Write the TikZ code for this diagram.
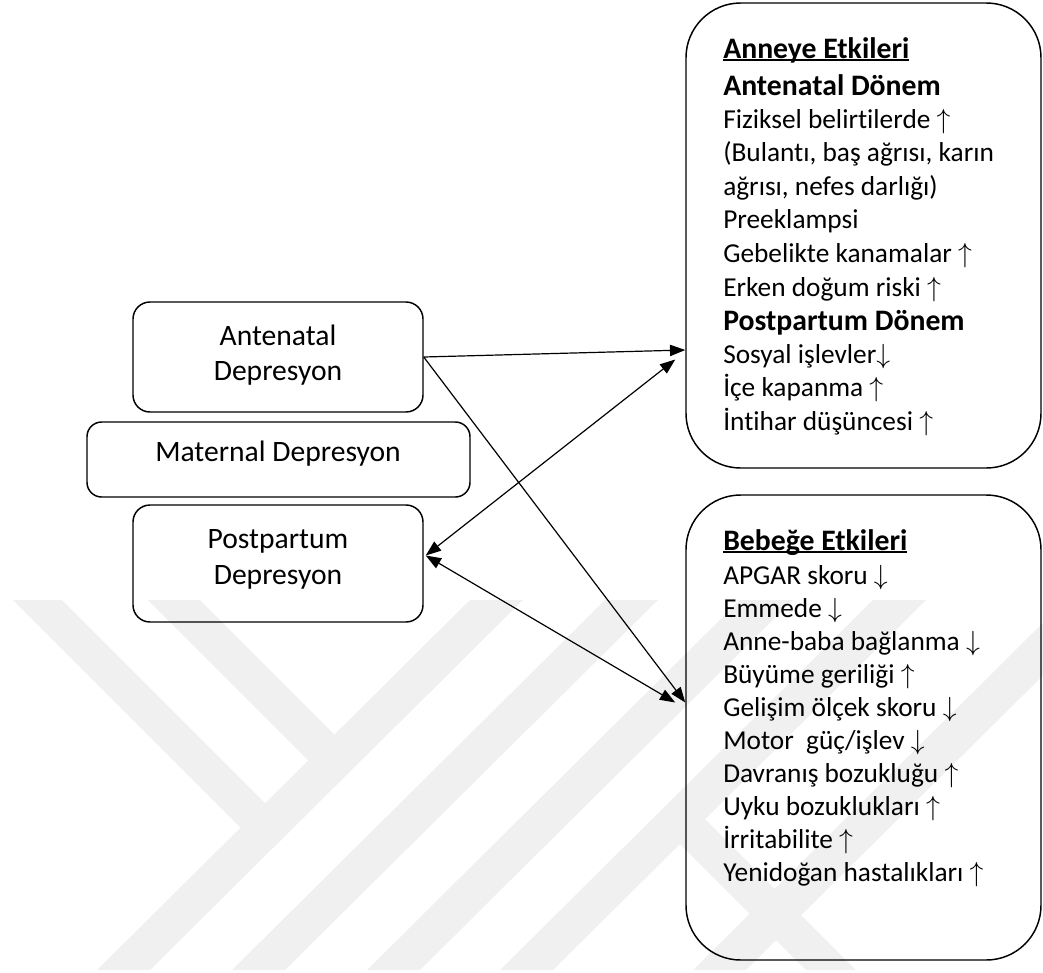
\documentclass[tikz,border=0pt]{standalone}
\usepackage{fontspec}
\setmainfont{Carlito}[Ligatures=NoCommon]
\usetikzlibrary{calc,arrows.meta}
\newcommand{\myup}{$\uparrow$}
\newcommand{\mydown}{$\downarrow$}
\newcommand{\myul}[1]{\setbox0\hbox{#1}\rlap{\rule[-2.1pt]{\wd0}{1pt}}\box0}
\begin{document}
\begin{tikzpicture}[x=0.75pt,y=-0.75pt,
  lbox/.style={draw, line width=1.1pt, inner sep=0, minimum width=217.5pt},
  bigbox/.style={draw, line width=1.1pt, inner sep=0, rounded corners=41pt, minimum width=266.25pt, minimum height=348.75pt},
  lbl/.style={anchor=base, inner sep=0, font=\fontsize{22.2}{26}\selectfont},
  itm/.style={anchor=base west, inner sep=0, font=\fontsize{20.5}{24}\selectfont},
  hdr/.style={anchor=base west, inner sep=0, font=\fontsize{22.3}{26}\selectfont\bfseries},
  conn/.style={line width=0.9pt, -{Triangle[length=11.5pt,width=8.5pt]}},
  dconn/.style={line width=0.9pt, {Triangle[length=11.5pt,width=8.5pt]}-{Triangle[length=11.5pt,width=8.5pt]}},
  wm/.style={fill=black!6, draw=none}]
\useasboundingbox (0,0) rectangle (1043,972);
% watermark
\fill[wm] (97,970) -- (150,970) -- (523,600) -- (470,600) -- cycle;
\fill[wm] (232,970) -- (285,970) -- (658,600) -- (605,600) -- cycle;
\fill[wm] (367,970) -- (420,970) -- (793,600) -- (740,600) -- cycle;
\fill[wm] (500,970) -- (553,970) -- (926,600) -- (873,600) -- cycle;
\fill[wm] (693,970) -- (746,970) -- (1119,600) -- (1066,600) -- cycle;
\fill[wm] (13,600) -- (62,600) -- (265,803) -- (240.6,827.6) -- cycle;
\fill[wm] (148,600) -- (200,600) -- (334.5,734.5) -- (308.4,760.4) -- cycle;
\fill[wm] (680,844) -- (705.1,819.1) -- (856,970) -- (806,970) -- cycle;
% left boxes
\node[lbox, minimum height=82.5pt, rounded corners=12.75pt] (ante) at (278,357) {};
\node[lbox, minimum width=287.25pt, minimum height=56.25pt, rounded corners=11pt] (mat) at (278.5,459.5) {};
\node[lbox, minimum height=87.75pt, rounded corners=12.75pt] (post) at (278,563.5) {};
\node[lbl] (t1) at (278,345) {Antenatal};
\node[lbl] (t2) at (278,380.7) {Depresyon};
\node[lbl] (t3) at (278,461.7) {Maternal Depresyon};
\node[lbl] (t4) at (278,548) {Postpartum};
\node[lbl] (t5) at (278,584) {Depresyon};
% right boxes
\node[bigbox] (anneye) at (863.5,235.5) {};
\node[bigbox] (bebege) at (863.5,727.5) {};
\node[hdr] (a1) at (723,58) {\myul{Anneye Etkileri}};
\node[hdr] (a2) at (723,95) {Antenatal Dönem};
\node[itm] (a3) at (723,128) {Fiziksel belirtilerde \myup};
\node[itm] (a4) at (723,161.6) {(Bulantı, baş ağrısı, karın};
\node[itm] (a5) at (723,195.2) {ağrısı, nefes darlığı)};
\node[itm] (a6) at (723,228.8) {Preeklampsi};
\node[itm] (a7) at (723,262.4) {Gebelikte kanamalar \myup};
\node[itm] (a8) at (723,296) {Erken doğum riski \myup};
\node[hdr] (a9) at (723,330) {Postpartum Dönem};
\node[itm] (a10) at (723,363.4) {Sosyal işlevler\mydown};
\node[itm] (a11) at (723,396.8) {İçe kapanma \myup};
\node[itm] (a12) at (723,430) {İntihar düşüncesi \myup};
\node[hdr] (b1) at (723,550) {\myul{Bebeğe Etkileri}};
\node[itm] (b2) at (723,584) {APGAR skoru \mydown};
\node[itm] (b3) at (723,617.1) {Emmede \mydown};
\node[itm] (b4) at (723,650.2) {Anne-baba bağlanma \mydown};
\node[itm] (b5) at (723,683.3) {Büyüme geriliği \myup};
\node[itm] (b6) at (723,716.4) {Gelişim ölçek skoru \mydown};
\node[itm] (b7) at (723,749.5) {Motor\ \ güç/işlev \mydown};
\node[itm] (b8) at (723,782.6) {Davranış bozukluğu \myup};
\node[itm] (b9) at (723,815.7) {Uyku bozuklukları \myup};
\node[itm] (b10) at (723,848.8) {İrritabilite \myup};
\node[itm] (b11) at (723,881.9) {Yenidoğan hastalıkları \myup};
% connector end points
\coordinate (pE) at ($(post.east)+(2,-8)$);
\coordinate (aIn) at ($(anneye.west)+(0,114.5)$);
\coordinate (aIn2) at ($(anneye.west)+(-10,124)$);
\coordinate (bIn) at ($(bebege.west)+(0,-25)$);
\coordinate (bIn2) at ($(bebege.west)+(-10,-25)$);
\draw[conn] (ante.east) -- (aIn);
\draw[conn] (ante.east) -- (bIn);
\draw[dconn] (pE) -- (aIn2);
\draw[dconn] (pE) -- (bIn2);
\end{tikzpicture}
\end{document}
